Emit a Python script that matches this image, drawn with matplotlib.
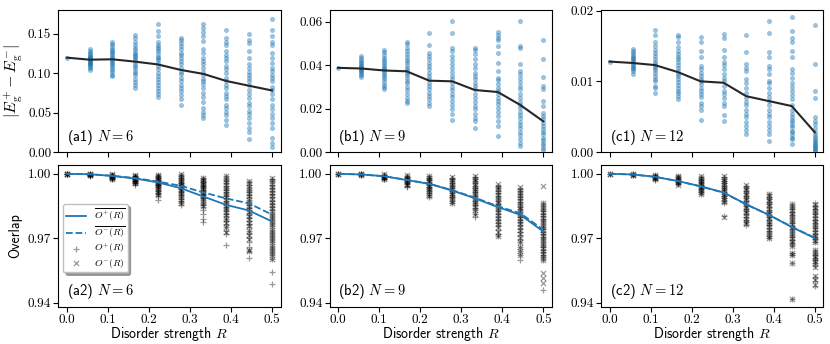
import numpy as np
import matplotlib
matplotlib.use('Agg')
import matplotlib.pyplot as plt

plt.rcParams['font.family'] = 'cmr10'
plt.rcParams['mathtext.fontset'] = 'cm'
plt.rcParams['axes.formatter.use_mathtext'] = True
plt.rcParams['axes.unicode_minus'] = False

R = [0.0, 0.056, 0.111, 0.167, 0.222, 0.278, 0.333, 0.389, 0.444, 0.5]
sizes = [6, 9, 12]
tags = ['a', 'b', 'c']

# energy gaps |E+ - E-| per disorder strength
gap_a = [
    [0.1196],
    [0.130, 0.128, 0.126, 0.124, 0.122, 0.121, 0.120, 0.119, 0.118, 0.117, 0.116, 0.115, 0.114, 0.113, 0.112, 0.111, 0.110, 0.108, 0.106, 0.104],
    [0.140, 0.137, 0.134, 0.131, 0.129, 0.127, 0.125, 0.123, 0.121, 0.119, 0.117, 0.115, 0.113, 0.111, 0.109, 0.107, 0.104, 0.101, 0.098, 0.096],
    [0.148, 0.144, 0.140, 0.136, 0.132, 0.129, 0.126, 0.124, 0.122, 0.120, 0.118, 0.115, 0.112, 0.109, 0.106, 0.103, 0.100, 0.097, 0.093, 0.089, 0.085, 0.081],
    [0.162, 0.153, 0.147, 0.140, 0.136, 0.133, 0.130, 0.128, 0.124, 0.121, 0.119, 0.116, 0.113, 0.109, 0.105, 0.100, 0.096, 0.092, 0.089, 0.085, 0.081, 0.077, 0.074, 0.070],
    [0.145, 0.142, 0.138, 0.134, 0.130, 0.126, 0.123, 0.119, 0.115, 0.111, 0.107, 0.102, 0.099, 0.094, 0.090, 0.085, 0.081, 0.077, 0.072, 0.067, 0.060],
    [0.162, 0.157, 0.152, 0.147, 0.141, 0.130, 0.126, 0.119, 0.115, 0.112, 0.107, 0.102, 0.098, 0.093, 0.090, 0.086, 0.081, 0.075, 0.070, 0.063, 0.056, 0.051, 0.047, 0.043],
    [0.155, 0.145, 0.140, 0.135, 0.128, 0.123, 0.119, 0.115, 0.109, 0.105, 0.100, 0.094, 0.090, 0.085, 0.081, 0.075, 0.071, 0.067, 0.060, 0.056, 0.051, 0.047, 0.040, 0.034],
    [0.149, 0.142, 0.138, 0.128, 0.119, 0.111, 0.107, 0.102, 0.098, 0.094, 0.090, 0.085, 0.079, 0.074, 0.069, 0.062, 0.058, 0.052, 0.048, 0.043, 0.037, 0.031, 0.025, 0.016],
    [0.169, 0.155, 0.147, 0.140, 0.136, 0.126, 0.119, 0.113, 0.107, 0.103, 0.098, 0.094, 0.090, 0.083, 0.078, 0.073, 0.067, 0.060, 0.054, 0.048, 0.043, 0.037, 0.031, 0.018, 0.012, 0.006],
]
gap_b = [
    [0.0387],
    [0.0442, 0.0432, 0.0422, 0.0415, 0.0408, 0.0402, 0.0397, 0.0392, 0.0387, 0.0382, 0.0377, 0.0372, 0.0366, 0.0360, 0.0352, 0.0344],
    [0.0470, 0.0458, 0.0445, 0.0432, 0.0422, 0.0412, 0.0404, 0.0396, 0.0388, 0.0380, 0.0372, 0.0364, 0.0356, 0.0346, 0.0336, 0.0324, 0.0310, 0.0298, 0.0289],
    [0.0508, 0.0495, 0.0480, 0.0465, 0.0450, 0.0438, 0.0425, 0.0412, 0.0400, 0.0388, 0.0376, 0.0365, 0.0352, 0.0340, 0.0328, 0.0315, 0.0300, 0.0285, 0.0268, 0.0250, 0.0235, 0.0225],
    [0.0548, 0.0491, 0.0456, 0.0441, 0.0426, 0.0410, 0.0395, 0.0380, 0.0364, 0.0349, 0.0334, 0.0318, 0.0303, 0.0288, 0.0273, 0.0257, 0.0242, 0.0227, 0.0211],
    [0.0602, 0.0545, 0.0476, 0.0464, 0.0441, 0.0421, 0.0403, 0.0384, 0.0369, 0.0349, 0.0334, 0.0318, 0.0299, 0.0283, 0.0268, 0.0253, 0.0234, 0.0216, 0.0196, 0.0176, 0.0145],
    [0.0476, 0.0467, 0.0449, 0.0426, 0.0403, 0.0384, 0.0364, 0.0349, 0.0334, 0.0318, 0.0303, 0.0288, 0.0268, 0.0250, 0.0231, 0.0211, 0.0196, 0.0176, 0.0158, 0.0142, 0.0109],
    [0.0553, 0.0540, 0.0525, 0.0513, 0.0487, 0.0456, 0.0410, 0.0372, 0.0341, 0.0329, 0.0314, 0.0295, 0.0280, 0.0265, 0.0250, 0.0234, 0.0219, 0.0204, 0.0185, 0.0165, 0.0142, 0.0119, 0.0073],
    [0.0602, 0.0487, 0.0479, 0.0403, 0.0372, 0.0357, 0.0341, 0.0323, 0.0303, 0.0288, 0.0268, 0.0250, 0.0231, 0.0216, 0.0201, 0.0185, 0.0170, 0.0155, 0.0139, 0.0124, 0.0109, 0.0093, 0.0078, 0.0058, 0.0043, 0.0028],
    [0.0513, 0.0426, 0.0344, 0.0303, 0.0288, 0.0234, 0.0211, 0.0181, 0.0165, 0.0150, 0.0135, 0.0119, 0.0104, 0.0093, 0.0081, 0.0066, 0.0054, 0.0043, 0.0032, 0.0020, 0.0008],
]
gap_c = [
    [0.0128],
    [0.0146, 0.0143, 0.0140, 0.0137, 0.0135, 0.0133, 0.0131, 0.0129, 0.0127, 0.0125, 0.0123, 0.0121, 0.0119, 0.0117, 0.0114, 0.0110],
    [0.0172, 0.0165, 0.0155, 0.0150, 0.0145, 0.0140, 0.0136, 0.0132, 0.0128, 0.0125, 0.0122, 0.0119, 0.0116, 0.0112, 0.0108, 0.0104, 0.0100, 0.0094, 0.0090, 0.0084],
    [0.0166, 0.0163, 0.0155, 0.0148, 0.0143, 0.0139, 0.0135, 0.0131, 0.0127, 0.0123, 0.0119, 0.0115, 0.0111, 0.0107, 0.0103, 0.0099, 0.0095, 0.0091, 0.0087, 0.0083, 0.0079, 0.0075],
    [0.0163, 0.0155, 0.0143, 0.0135, 0.0122, 0.0117, 0.0112, 0.0108, 0.0103, 0.0100, 0.0096, 0.0091, 0.0086, 0.0082, 0.0078, 0.0070, 0.0065, 0.0060, 0.0045],
    [0.0167, 0.0162, 0.0145, 0.0135, 0.0128, 0.0123, 0.0117, 0.0111, 0.0105, 0.0100, 0.0093, 0.0087, 0.0082, 0.0076, 0.0070, 0.0065, 0.0052, 0.0044],
    [0.0166, 0.0142, 0.0125, 0.0119, 0.0114, 0.0103, 0.0098, 0.0091, 0.0084, 0.0077, 0.0071, 0.0067, 0.0060, 0.0054, 0.0049, 0.0043, 0.0037, 0.0031, 0.0025],
    [0.0185, 0.0169, 0.0141, 0.0134, 0.0122, 0.0118, 0.0110, 0.0101, 0.0097, 0.0091, 0.0084, 0.0078, 0.0072, 0.0067, 0.0060, 0.0054, 0.0049, 0.0043, 0.0037, 0.0031, 0.0025, 0.0015],
    [0.0191, 0.0171, 0.0162, 0.0155, 0.0143, 0.0134, 0.0117, 0.0112, 0.0105, 0.0098, 0.0092, 0.0086, 0.0081, 0.0075, 0.0067, 0.0060, 0.0054, 0.0049, 0.0045, 0.0042, 0.0038, 0.0035, 0.0030, 0.0028, 0.0024, 0.0020, 0.0018, 0.0012],
    [0.0180, 0.0125, 0.0087, 0.0076, 0.0049, 0.0044, 0.0039, 0.0034, 0.0029, 0.0024, 0.0021, 0.0019, 0.0016, 0.0014, 0.0012, 0.0010, 0.0008, 0.0006, 0.0005, 0.0003, 0.0001],
]
gap_mean_a = [0.1196, 0.117, 0.1175, 0.1145, 0.111, 0.104, 0.099, 0.090, 0.084, 0.078]
gap_mean_b = [0.0387, 0.0384, 0.0375, 0.0371, 0.0328, 0.0325, 0.0285, 0.0276, 0.0216, 0.0141]
gap_mean_c = [0.0128, 0.0126, 0.0123, 0.0113, 0.0100, 0.0098, 0.0079, 0.0072, 0.0065, 0.0028]

# overlaps O+ and O-
ovp_a = [
    [1.0, 1.0, 0.9999, 0.9999, 0.9998],
    [0.9999, 0.9998, 0.9997, 0.9996, 0.9995, 0.9994, 0.9993, 0.9992],
    [0.9996, 0.9994, 0.9992, 0.9990, 0.9988, 0.9986, 0.9984, 0.9982, 0.9980, 0.9977, 0.9974],
    [0.9992, 0.9989, 0.9986, 0.9983, 0.9980, 0.9977, 0.9974, 0.9971, 0.9968, 0.9965, 0.9962, 0.9958, 0.9955, 0.9950],
    [0.9995, 0.9990, 0.9985, 0.9980, 0.9975, 0.9970, 0.9966, 0.9962, 0.9958, 0.9954, 0.9950, 0.9946, 0.9942, 0.9937, 0.9932, 0.9926, 0.9920, 0.9912, 0.9905, 0.9897, 0.9877],
    [0.9995, 0.9988, 0.9982, 0.9976, 0.9970, 0.9964, 0.9958, 0.9952, 0.9946, 0.9940, 0.9934, 0.9928, 0.9922, 0.9915, 0.9908, 0.9900, 0.9892, 0.9883, 0.9873, 0.9862, 0.9855],
    [0.9980, 0.9974, 0.9968, 0.9962, 0.9956, 0.9950, 0.9944, 0.9938, 0.9932, 0.9926, 0.9920, 0.9913, 0.9906, 0.9899, 0.9892, 0.9885, 0.9876, 0.9866, 0.9855, 0.9845, 0.9830, 0.9815, 0.9790, 0.9776],
    [0.9990, 0.9975, 0.9965, 0.9955, 0.9945, 0.9935, 0.9925, 0.9915, 0.9905, 0.9895, 0.9885, 0.9875, 0.9865, 0.9855, 0.9845, 0.9835, 0.9825, 0.9815, 0.9803, 0.9790, 0.9778, 0.9765, 0.9750, 0.9735, 0.9720, 0.9667],
    [0.9962, 0.9950, 0.9938, 0.9926, 0.9914, 0.9902, 0.9890, 0.9878, 0.9866, 0.9854, 0.9842, 0.9830, 0.9818, 0.9806, 0.9794, 0.9780, 0.9766, 0.9750, 0.9735, 0.9718, 0.9700, 0.9680, 0.9660, 0.9640, 0.9607],
    [0.9978, 0.9965, 0.9950, 0.9935, 0.9920, 0.9905, 0.9890, 0.9875, 0.9860, 0.9845, 0.9830, 0.9815, 0.9800, 0.9785, 0.9770, 0.9755, 0.9740, 0.9725, 0.9710, 0.9695, 0.9680, 0.9665, 0.9650, 0.9635, 0.9620, 0.9605, 0.9544, 0.9487],
]
ovm_a = [
    [1.0, 0.9999, 0.9998],
    [0.9999, 0.9997, 0.9995, 0.9993],
    [0.9997, 0.9993, 0.9989, 0.9985, 0.9981, 0.9977],
    [0.9993, 0.9988, 0.9983, 0.9978, 0.9973, 0.9968, 0.9963, 0.9958],
    [0.9996, 0.9988, 0.9980, 0.9972, 0.9964, 0.9956, 0.9948, 0.9940, 0.9930, 0.9920, 0.9910, 0.9900],
    [0.9997, 0.9988, 0.9978, 0.9968, 0.9958, 0.9948, 0.9938, 0.9928, 0.9918, 0.9906, 0.9894, 0.9880, 0.9865],
    [0.9982, 0.9972, 0.9962, 0.9952, 0.9942, 0.9932, 0.9922, 0.9912, 0.9902, 0.9890, 0.9878, 0.9865, 0.9850],
    [0.9992, 0.9978, 0.9964, 0.9950, 0.9936, 0.9922, 0.9908, 0.9894, 0.9880, 0.9866, 0.9852, 0.9838, 0.9822, 0.9806, 0.9790, 0.9772, 0.9752, 0.9730],
    [0.9968, 0.9955, 0.9940, 0.9925, 0.9910, 0.9895, 0.9880, 0.9865, 0.9850, 0.9835, 0.9820, 0.9805, 0.9790, 0.9772, 0.9755, 0.9735, 0.9715, 0.9695, 0.9647, 0.9640],
    [0.9982, 0.9968, 0.9954, 0.9940, 0.9926, 0.9912, 0.9898, 0.9884, 0.9870, 0.9856, 0.9842, 0.9828, 0.9814, 0.9800, 0.9785, 0.9770, 0.9755, 0.9740, 0.9725, 0.9710, 0.9695, 0.9680, 0.9665, 0.9650, 0.9635, 0.9620, 0.9605],
]
ovp_b = [
    [1.0, 0.9999, 0.9999],
    [0.9999, 0.9998, 0.9997, 0.9996, 0.9995],
    [0.9996, 0.9993, 0.9990, 0.9987, 0.9984, 0.9981, 0.9978, 0.9975],
    [0.9992, 0.9987, 0.9982, 0.9977, 0.9972, 0.9967, 0.9962, 0.9957, 0.9951, 0.9945, 0.9940],
    [0.9988, 0.9982, 0.9976, 0.9970, 0.9964, 0.9958, 0.9952, 0.9946, 0.9940, 0.9933, 0.9926, 0.9918, 0.9910, 0.9900, 0.9892],
    [0.9982, 0.9974, 0.9966, 0.9958, 0.9950, 0.9942, 0.9934, 0.9926, 0.9918, 0.9910, 0.9902, 0.9894, 0.9885, 0.9875, 0.9862],
    [0.9985, 0.9975, 0.9965, 0.9955, 0.9945, 0.9935, 0.9925, 0.9915, 0.9905, 0.9895, 0.9885, 0.9875, 0.9865, 0.9855, 0.9843, 0.9830, 0.9815, 0.9800],
    [0.9945, 0.9933, 0.9921, 0.9909, 0.9897, 0.9885, 0.9873, 0.9861, 0.9849, 0.9837, 0.9825, 0.9813, 0.9800, 0.9787, 0.9773, 0.9758, 0.9740, 0.9720, 0.9708],
    [0.9930, 0.9918, 0.9906, 0.9894, 0.9882, 0.9870, 0.9858, 0.9846, 0.9834, 0.9822, 0.9810, 0.9798, 0.9786, 0.9774, 0.9760, 0.9745, 0.9730, 0.9715, 0.9698, 0.9680, 0.9660, 0.9640, 0.9620, 0.9600],
    [0.9862, 0.9850, 0.9838, 0.9826, 0.9814, 0.9802, 0.9790, 0.9778, 0.9766, 0.9754, 0.9742, 0.9730, 0.9718, 0.9706, 0.9694, 0.9682, 0.9670, 0.9658, 0.9646, 0.9634, 0.9622, 0.9610, 0.9598, 0.9459],
]
ovm_b = [
    [1.0, 0.9999],
    [0.9999, 0.9997, 0.9995],
    [0.9997, 0.9992, 0.9987, 0.9982, 0.9977],
    [0.9994, 0.9986, 0.9978, 0.9970, 0.9962, 0.9954, 0.9946],
    [0.9990, 0.9980, 0.9970, 0.9960, 0.9950, 0.9940, 0.9930, 0.9920, 0.9908, 0.9898],
    [0.9985, 0.9972, 0.9960, 0.9948, 0.9936, 0.9924, 0.9912, 0.9900, 0.9888, 0.9875, 0.9865],
    [0.9990, 0.9978, 0.9966, 0.9954, 0.9942, 0.9930, 0.9918, 0.9906, 0.9894, 0.9882, 0.9870, 0.9858, 0.9845, 0.9830, 0.9815],
    [0.9953, 0.9940, 0.9927, 0.9914, 0.9901, 0.9888, 0.9875, 0.9862, 0.9849, 0.9836, 0.9823, 0.9810, 0.9796, 0.9782, 0.9767, 0.9750, 0.9730, 0.9712],
    [0.9938, 0.9925, 0.9912, 0.9899, 0.9886, 0.9873, 0.9860, 0.9847, 0.9834, 0.9821, 0.9808, 0.9795, 0.9781, 0.9767, 0.9752, 0.9737, 0.9720, 0.9700, 0.9680, 0.9660, 0.9640, 0.9620],
    [0.9944, 0.9866, 0.9852, 0.9838, 0.9824, 0.9810, 0.9796, 0.9782, 0.9768, 0.9754, 0.9740, 0.9726, 0.9712, 0.9698, 0.9684, 0.9670, 0.9656, 0.9642, 0.9628, 0.9614, 0.9600, 0.9537, 0.9513, 0.9493],
]
ovp_c = [
    [1.0, 0.9999],
    [0.9999, 0.9997, 0.9995, 0.9993],
    [0.9995, 0.9991, 0.9987, 0.9983, 0.9979, 0.9975, 0.9971],
    [0.9988, 0.9983, 0.9978, 0.9973, 0.9968, 0.9963, 0.9958, 0.9953],
    [0.9985, 0.9978, 0.9971, 0.9964, 0.9957, 0.9950, 0.9943, 0.9936, 0.9929, 0.9922, 0.9915, 0.9905],
    [0.9985, 0.9975, 0.9965, 0.9955, 0.9945, 0.9935, 0.9925, 0.9915, 0.9905, 0.9895, 0.9885, 0.9875, 0.9865, 0.9802],
    [0.9945, 0.9933, 0.9921, 0.9909, 0.9897, 0.9885, 0.9873, 0.9861, 0.9849, 0.9837, 0.9825, 0.9813, 0.9800, 0.9787, 0.9774, 0.9762],
    [0.9905, 0.9893, 0.9881, 0.9869, 0.9857, 0.9845, 0.9833, 0.9821, 0.9809, 0.9797, 0.9785, 0.9773, 0.9761, 0.9748, 0.9735, 0.9722, 0.9710, 0.9700],
    [0.9860, 0.9847, 0.9834, 0.9821, 0.9808, 0.9795, 0.9782, 0.9769, 0.9756, 0.9743, 0.9730, 0.9717, 0.9704, 0.9691, 0.9678, 0.9665, 0.9633, 0.9622, 0.9586, 0.9415],
    [0.9863, 0.9850, 0.9837, 0.9824, 0.9811, 0.9798, 0.9785, 0.9772, 0.9759, 0.9746, 0.9733, 0.9720, 0.9707, 0.9694, 0.9684, 0.9645, 0.9633, 0.9621, 0.9609, 0.9597, 0.9585, 0.9570, 0.9521, 0.9500, 0.9476],
]
ovm_c = [
    [1.0, 0.9999],
    [0.9998, 0.9996, 0.9994],
    [0.9994, 0.9989, 0.9984, 0.9979, 0.9974],
    [0.9990, 0.9984, 0.9977, 0.9970, 0.9963, 0.9956, 0.9950],
    [0.9988, 0.9980, 0.9972, 0.9964, 0.9956, 0.9948, 0.9940, 0.9932, 0.9924, 0.9916, 0.9908],
    [0.9988, 0.9978, 0.9968, 0.9958, 0.9948, 0.9938, 0.9928, 0.9918, 0.9908, 0.9898, 0.9888, 0.9878, 0.9868, 0.9801],
    [0.9948, 0.9936, 0.9924, 0.9912, 0.9900, 0.9888, 0.9876, 0.9864, 0.9852, 0.9840, 0.9828, 0.9816, 0.9803, 0.9790, 0.9777, 0.9765],
    [0.9908, 0.9896, 0.9884, 0.9872, 0.9860, 0.9848, 0.9836, 0.9824, 0.9812, 0.9800, 0.9788, 0.9776, 0.9764, 0.9751, 0.9738, 0.9725, 0.9712, 0.9702],
    [0.9858, 0.9845, 0.9832, 0.9819, 0.9806, 0.9793, 0.9780, 0.9767, 0.9754, 0.9741, 0.9728, 0.9715, 0.9702, 0.9689, 0.9676, 0.9663, 0.9633, 0.9622, 0.9586, 0.9415],
    [0.9860, 0.9847, 0.9834, 0.9821, 0.9808, 0.9795, 0.9782, 0.9769, 0.9756, 0.9743, 0.9730, 0.9717, 0.9704, 0.9691, 0.9682, 0.9643, 0.9631, 0.9619, 0.9607, 0.9595, 0.9583, 0.9568, 0.9525, 0.9505, 0.9480],
]
ovp_mean_a = [1.0, 0.9998, 0.9990, 0.9978, 0.9960, 0.9933, 0.9894, 0.9855, 0.9829, 0.9778]
ovm_mean_a = [1.0, 0.9998, 0.9991, 0.9980, 0.9964, 0.9944, 0.9913, 0.9885, 0.9862, 0.9810]
ovp_mean_b = [1.0, 0.9997, 0.9989, 0.9971, 0.9953, 0.9922, 0.9886, 0.9845, 0.9809, 0.9731]
ovm_mean_b = [1.0, 0.9997, 0.9989, 0.9972, 0.9954, 0.9924, 0.9889, 0.9849, 0.9816, 0.9739]
ovp_mean_c = [1.0, 0.9997, 0.9986, 0.9966, 0.9942, 0.9913, 0.9858, 0.9808, 0.9752, 0.9700]
ovm_mean_c = [1.0, 0.9997, 0.9986, 0.9966, 0.9941, 0.9912, 0.9857, 0.9808, 0.9753, 0.9702]

gaps = [gap_a, gap_b, gap_c]
gap_means = [gap_mean_a, gap_mean_b, gap_mean_c]
ovps = [ovp_a, ovp_b, ovp_c]
ovms = [ovm_a, ovm_b, ovm_c]
ovp_means = [ovp_mean_a, ovp_mean_b, ovp_mean_c]
ovm_means = [ovm_mean_a, ovm_mean_b, ovm_mean_c]

gap_ylims = [(0, 0.18), (0, 0.0653), (0, 0.0201)]
gap_yticks = [[0, 0.05, 0.10, 0.15], [0, 0.02, 0.04, 0.06], [0, 0.01, 0.02]]


def flatten(cols):
    xs = [r for r, col in zip(R, cols) for _ in col]
    ys = [v for col in cols for v in col]
    return xs, ys


blue = '#1f77b4'
sans = 'cmss10'

fig, axes = plt.subplots(2, 3, figsize=(8.3, 3.44))
plt.subplots_adjust(left=0.07, right=0.992, bottom=0.108, top=0.971, wspace=0.22, hspace=0.09)

for j in range(3):
    ax = axes[0, j]
    xs, ys = flatten(gaps[j])
    ax.scatter(xs, ys, s=13, color=blue, alpha=0.45, linewidths=0)
    ax.plot(R, gap_means[j], color='0.15', lw=1.5)
    ax.set_xlim(-0.021, 0.521)
    ax.set_ylim(*gap_ylims[j])
    ax.set_yticks(gap_yticks[j])
    ax.set_yticklabels(['%.2f' % t for t in gap_yticks[j]])
    ax.set_xticks([0, 0.1, 0.2, 0.3, 0.4, 0.5])
    ax.set_xticklabels([])
    ax.text(0.04, 0.08, '(%s1) $N = %d$' % (tags[j], sizes[j]), transform=ax.transAxes,
            fontsize=10.5, family=sans)

    ax = axes[1, j]
    xs, ys = flatten(ovps[j])
    sp = ax.scatter(xs, ys, s=18, marker='+', color='k', alpha=0.4, linewidths=0.9,
                    label='$O^{+}(R)$')
    xs, ys = flatten(ovms[j])
    sm = ax.scatter(xs, ys, s=14, marker='x', color='k', alpha=0.4, linewidths=0.9,
                    label='$O^{-}(R)$')
    lp, = ax.plot(R, ovp_means[j], color=blue, lw=1.3, label=r'$\overline{O^{+}(R)}$')
    lm, = ax.plot(R, ovm_means[j], color=blue, lw=1.3, ls='--', label=r'$\overline{O^{-}(R)}$')
    ax.set_xlim(-0.021, 0.521)
    ax.set_ylim(0.938, 1.0042)
    ax.set_yticks([0.94, 0.97, 1.00])
    ax.set_yticklabels(['0.94', '0.97', '1.00'])
    ax.set_xticks([0, 0.1, 0.2, 0.3, 0.4, 0.5])
    ax.set_xticklabels(['0.0', '0.1', '0.2', '0.3', '0.4', '0.5'])
    ax.set_xlabel('Disorder strength $R$', family=sans, fontsize=10, labelpad=-1)
    ax.text(0.04, 0.08, '(%s2) $N = %d$' % (tags[j], sizes[j]), transform=ax.transAxes,
            fontsize=10.5, family=sans)
    if j == 0:
        leg = ax.legend(handles=[lp, lm, sp, sm], loc='upper left', bbox_to_anchor=(0.015, 0.74),
                        fontsize=7, shadow=True, fancybox=True, framealpha=1,
                        handlelength=2.0, borderpad=0.3, labelspacing=0.12, borderaxespad=0.2)
        leg.get_frame().set_edgecolor('0.75')

for ax in axes.flat:
    ax.tick_params(labelsize=9.5, length=3.5, pad=1.5)

axes[0, 0].set_ylabel(r'$|E_\mathrm{g}^{+} - E_\mathrm{g}^{-}|$', fontsize=11.5, labelpad=2)
axes[1, 0].set_ylabel('Overlap', family=sans, fontsize=10)

plt.savefig('out.png', dpi=100)
